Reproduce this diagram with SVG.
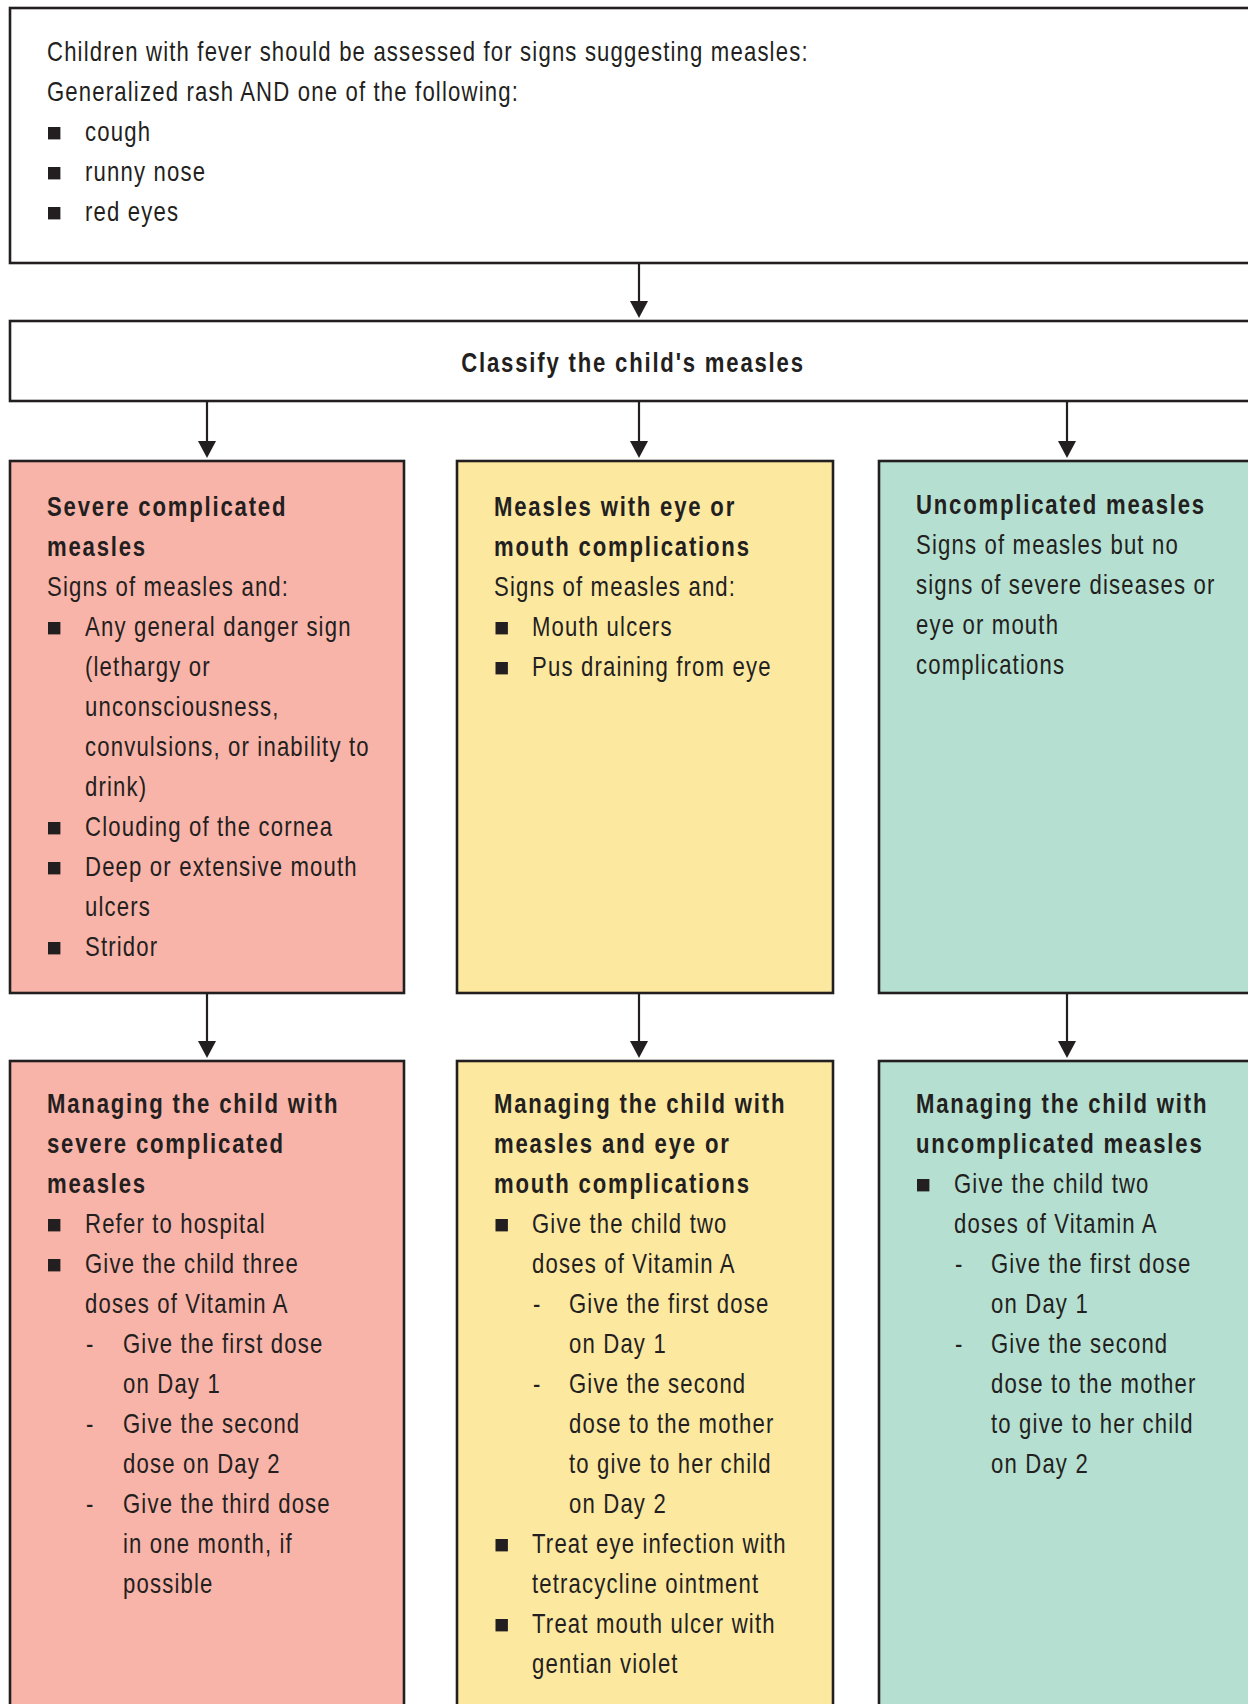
<svg xmlns="http://www.w3.org/2000/svg" width="1248" height="1704" viewBox="0 0 1248 1704">
<defs>
<style>
.box{stroke:#231f20;stroke-width:2.6}
.w{fill:#ffffff}
.r{fill:#f8b4a9}
.y{fill:#fde8a0}
.g{fill:#b5e0d1}
.t{font-family:"Liberation Sans",Arial,sans-serif;font-size:27px;fill:#231f20;letter-spacing:1.42px}
.b{font-weight:bold;letter-spacing:2.2px}
.bul{fill:#231f20}
.con{stroke:#231f20;stroke-width:2.2;fill:none}
.ah{fill:#231f20}
</style>
</defs>
<rect width="1248" height="1704" fill="#ffffff"/>

<g id="connectors">
<line class="con" x1="639" y1="259" x2="639" y2="301"/>
<path class="ah" d="M630,301 L648,301 L639,318 Z"/>
<line class="con" x1="207" y1="401" x2="207" y2="441"/>
<path class="ah" d="M198,441 L216,441 L207,458 Z"/>
<line class="con" x1="639" y1="401" x2="639" y2="441"/>
<path class="ah" d="M630,441 L648,441 L639,458 Z"/>
<line class="con" x1="1067" y1="401" x2="1067" y2="441"/>
<path class="ah" d="M1058,441 L1076,441 L1067,458 Z"/>
<line class="con" x1="207" y1="993" x2="207" y2="1041"/>
<path class="ah" d="M198,1041 L216,1041 L207,1058 Z"/>
<line class="con" x1="639" y1="993" x2="639" y2="1041"/>
<path class="ah" d="M630,1041 L648,1041 L639,1058 Z"/>
<line class="con" x1="1067" y1="993" x2="1067" y2="1041"/>
<path class="ah" d="M1058,1041 L1076,1041 L1067,1058 Z"/>
</g>

<g id="assess">
<rect class="box w" x="10" y="8" width="1260" height="255"/>
<g transform="translate(47,0) scale(0.82,1)">
<text class="t"><tspan x="0" y="61">Children with fever should be assessed for signs suggesting measles:</tspan><tspan x="0" y="101">Generalized rash AND one of the following:</tspan><tspan x="46.34" y="141">cough</tspan><tspan x="46.34" y="181">runny nose</tspan><tspan x="46.34" y="221">red eyes</tspan></text>
</g>
<rect class="bul" x="48" y="127" width="12.4" height="12.4"/>
<rect class="bul" x="48" y="167" width="12.4" height="12.4"/>
<rect class="bul" x="48" y="207" width="12.4" height="12.4"/>
</g>

<g id="classify">
<rect class="box w" x="10" y="321" width="1260" height="80"/>
<g transform="translate(633,0) scale(0.82,1)">
<text class="t b" x="0" y="372" text-anchor="middle">Classify the child's measles</text>
</g>
</g>

<g id="severe">
<rect class="box r" x="10" y="461" width="394" height="532"/>
<g transform="translate(47,0) scale(0.82,1)">
<text class="t"><tspan class="b" x="0" y="516">Severe complicated</tspan><tspan class="b" x="0" y="556">measles</tspan><tspan x="0" y="596">Signs of measles and:</tspan><tspan x="46.34" y="636">Any general danger sign</tspan><tspan x="46.34" y="676">(lethargy or</tspan><tspan x="46.34" y="716">unconsciousness,</tspan><tspan x="46.34" y="756">convulsions, or inability to</tspan><tspan x="46.34" y="796">drink)</tspan><tspan x="46.34" y="836">Clouding of the cornea</tspan><tspan x="46.34" y="876">Deep or extensive mouth</tspan><tspan x="46.34" y="916">ulcers</tspan><tspan x="46.34" y="956">Stridor</tspan></text>
</g>
<rect class="bul" x="48" y="622" width="12.4" height="12.4"/>
<rect class="bul" x="48" y="822" width="12.4" height="12.4"/>
<rect class="bul" x="48" y="862" width="12.4" height="12.4"/>
<rect class="bul" x="48" y="942" width="12.4" height="12.4"/>
</g>

<g id="eyemouth">
<rect class="box y" x="457" y="461" width="376" height="532"/>
<g transform="translate(494,0) scale(0.82,1)">
<text class="t"><tspan class="b" x="0" y="516">Measles with eye or</tspan><tspan class="b" x="0" y="556">mouth complications</tspan><tspan x="0" y="596">Signs of measles and:</tspan><tspan x="46.34" y="636">Mouth ulcers</tspan><tspan x="46.34" y="676">Pus draining from eye</tspan></text>
</g>
<rect class="bul" x="495.5" y="622" width="12.4" height="12.4"/>
<rect class="bul" x="495.5" y="662" width="12.4" height="12.4"/>
</g>

<g id="uncomplicated">
<rect class="box g" x="879" y="461" width="400" height="532"/>
<g transform="translate(916,0) scale(0.82,1)">
<text class="t"><tspan class="b" x="0" y="514">Uncomplicated measles</tspan><tspan x="0" y="554">Signs of measles but no</tspan><tspan x="0" y="594">signs of severe diseases or</tspan><tspan x="0" y="634">eye or mouth</tspan><tspan x="0" y="674">complications</tspan></text>
</g>
</g>

<g id="manage-severe">
<rect class="box r" x="10" y="1061" width="394" height="700"/>
<g transform="translate(47,0) scale(0.82,1)">
<text class="t"><tspan class="b" x="0" y="1113">Managing the child with</tspan><tspan class="b" x="0" y="1153">severe complicated</tspan><tspan class="b" x="0" y="1193">measles</tspan><tspan x="46.34" y="1233">Refer to hospital</tspan><tspan x="46.34" y="1273">Give the child three</tspan><tspan x="46.34" y="1313">doses of Vitamin A</tspan><tspan x="47.56" y="1353">-</tspan><tspan x="92.68" y="1353">Give the first dose</tspan><tspan x="92.68" y="1393">on Day 1</tspan><tspan x="47.56" y="1433">-</tspan><tspan x="92.68" y="1433">Give the second</tspan><tspan x="92.68" y="1473">dose on Day 2</tspan><tspan x="47.56" y="1513">-</tspan><tspan x="92.68" y="1513">Give the third dose</tspan><tspan x="92.68" y="1553">in one month, if</tspan><tspan x="92.68" y="1593">possible</tspan></text>
</g>
<rect class="bul" x="48" y="1219" width="12.4" height="12.4"/>
<rect class="bul" x="48" y="1259" width="12.4" height="12.4"/>
</g>

<g id="manage-eyemouth">
<rect class="box y" x="457" y="1061" width="376" height="700"/>
<g transform="translate(494,0) scale(0.82,1)">
<text class="t"><tspan class="b" x="0" y="1113">Managing the child with</tspan><tspan class="b" x="0" y="1153">measles and eye or</tspan><tspan class="b" x="0" y="1193">mouth complications</tspan><tspan x="46.34" y="1233">Give the child two</tspan><tspan x="46.34" y="1273">doses of Vitamin A</tspan><tspan x="47.56" y="1313">-</tspan><tspan x="91.46" y="1313">Give the first dose</tspan><tspan x="91.46" y="1353">on Day 1</tspan><tspan x="47.56" y="1393">-</tspan><tspan x="91.46" y="1393">Give the second</tspan><tspan x="91.46" y="1433">dose to the mother</tspan><tspan x="91.46" y="1473">to give to her child</tspan><tspan x="91.46" y="1513">on Day 2</tspan><tspan x="46.34" y="1553">Treat eye infection with</tspan><tspan x="46.34" y="1593">tetracycline ointment</tspan><tspan x="46.34" y="1633">Treat mouth ulcer with</tspan><tspan x="46.34" y="1673">gentian violet</tspan></text>
</g>
<rect class="bul" x="495.5" y="1219" width="12.4" height="12.4"/>
<rect class="bul" x="495.5" y="1539" width="12.4" height="12.4"/>
<rect class="bul" x="495.5" y="1619" width="12.4" height="12.4"/>
</g>

<g id="manage-uncomplicated">
<rect class="box g" x="879" y="1061" width="400" height="700"/>
<g transform="translate(916,0) scale(0.82,1)">
<text class="t"><tspan class="b" x="0" y="1113">Managing the child with</tspan><tspan class="b" x="0" y="1153">uncomplicated measles</tspan><tspan x="46.34" y="1193">Give the child two</tspan><tspan x="46.34" y="1233">doses of Vitamin A</tspan><tspan x="47.56" y="1273">-</tspan><tspan x="91.46" y="1273">Give the first dose</tspan><tspan x="91.46" y="1313">on Day 1</tspan><tspan x="47.56" y="1353">-</tspan><tspan x="91.46" y="1353">Give the second</tspan><tspan x="91.46" y="1393">dose to the mother</tspan><tspan x="91.46" y="1433">to give to her child</tspan><tspan x="91.46" y="1473">on Day 2</tspan></text>
</g>
<rect class="bul" x="917" y="1179" width="12.4" height="12.4"/>
</g>
</svg>
